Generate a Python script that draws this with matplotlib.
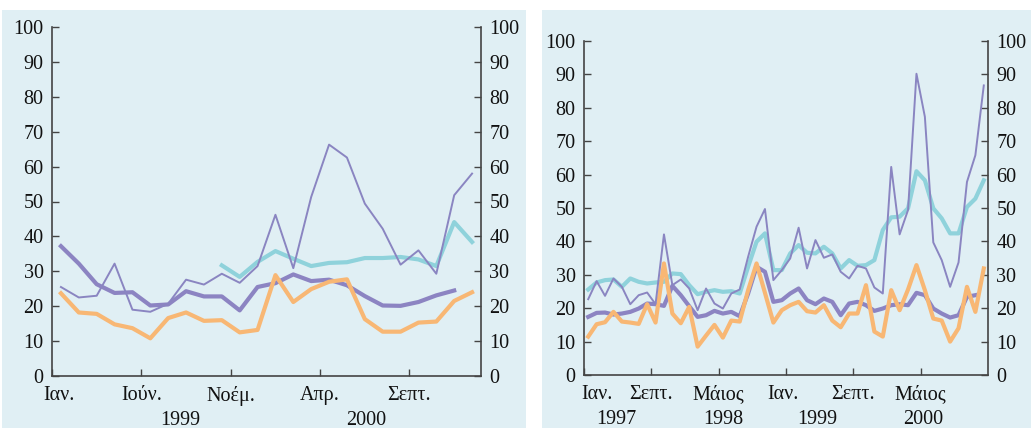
import numpy as np
import matplotlib
matplotlib.use('Agg')
import matplotlib.pyplot as plt
from matplotlib.patches import Rectangle

plt.rcParams['font.family'] = ['Liberation Serif', 'DejaVu Serif']

#--------------------------------------------------------------------------------------------
# left panel: monthly, Jan 1999 - Dec 2000
nan = np.nan
l_thin = [25.5, 22.5, 23.0, 32.2, 19.0, 18.4, 20.7, 27.6, 26.2, 29.3, 26.7, 31.5,
          46.2, 30.9, 51.3, 66.3, 62.6, 49.4, 42.2, 31.9, 36.0, 29.3, 51.8, 58.0]
l_thick = [37.2, 32.2, 26.3, 23.8, 24.0, 20.2, 20.5, 24.3, 22.8, 22.8, 18.8, 25.5,
           26.6, 29.1, 27.2, 27.6, 26.0, 22.9, 20.2, 20.1, 21.2, 23.1, 24.5, nan]
l_cyan = [nan, nan, nan, nan, nan, nan, nan, nan, nan, 31.7, 28.4, 32.7,
          35.8, 33.6, 31.5, 32.4, 32.6, 33.8, 33.8, 34.1, 33.4, 31.5, 44.1, 38.4]
l_orange = [23.7, 18.2, 17.8, 14.8, 13.7, 10.8, 16.6, 18.2, 15.8, 16.0, 12.5, 13.2,
            28.9, 21.2, 24.9, 27.0, 27.7, 16.3, 12.7, 12.7, 15.3, 15.6, 21.5, 24.0]
l_ticks = [0, 5, 10, 15, 20]
l_labels = ['Ιαν.', 'Ιούν.', 'Νοέμ.', 'Απρ.', 'Σεπτ.']
l_label_pos = [0.4, 5, 10, 15, 20]
l_years = ['1999', '2000']
l_year_pos = [7.2, 17.6]

# right panel: monthly, Jan 1997 - Dec 2000
r_thin = [22.7, 28.1, 23.7, 28.9, 26.4, 21.2, 23.9, 24.7, 21.2, 42.1, 26.9, 28.6,
          25.9, 19.4, 25.9, 21.4, 19.9, 24.4, 25.6, 35.4, 44.4, 49.7, 28.4, 31.4,
          34.9, 44.1, 31.9, 40.4, 35.1, 36.1, 30.9, 28.9, 32.7, 31.9, 26.2, 24.4,
          62.3, 42.1, 49.4, 90.2, 77.3, 39.7, 34.4, 26.4, 33.7, 57.8, 65.8, 86.7]
r_cyan = [25.6, 27.7, 28.4, 28.6, 26.4, 28.9, 27.9, 27.4, 27.7, 27.9, 30.4, 30.2,
          26.9, 24.2, 24.9, 25.4, 24.9, 25.1, 24.4, 32.4, 39.9, 42.4, 31.4, 31.4,
          36.4, 38.9, 36.6, 36.4, 38.4, 36.4, 31.9, 34.4, 32.7, 32.9, 34.4, 43.4,
          47.2, 47.4, 49.9, 61.0, 58.3, 49.9, 46.9, 42.4, 42.4, 50.3, 52.8, 58.3]
r_thick = [17.4, 18.6, 18.7, 18.1, 18.4, 18.9, 19.9, 21.4, 21.2, 20.7, 26.7, 23.9,
           20.6, 17.4, 17.9, 19.2, 18.4, 18.9, 17.6, 24.4, 32.4, 30.9, 21.9, 22.4,
           24.4, 25.9, 22.4, 21.2, 22.9, 21.9, 17.9, 21.4, 21.9, 20.9, 19.2, 19.9,
           20.9, 21.2, 20.9, 24.6, 23.9, 19.9, 18.4, 17.2, 17.9, 23.4, 23.9, nan]
r_orange = [11.5, 15.2, 15.8, 18.9, 16.0, 15.7, 15.3, 21.2, 15.7, 33.4, 18.4, 15.5,
            20.4, 8.5, 11.8, 15.0, 11.2, 16.3, 16.0, 25.4, 33.4, 24.6, 15.7, 19.4,
            20.9, 21.9, 19.1, 18.7, 20.9, 16.3, 14.3, 18.4, 18.4, 26.9, 13.0, 11.5,
            25.4, 19.4, 25.6, 32.9, 25.4, 16.9, 16.3, 10.0, 14.0, 26.4, 18.9, 31.9]
r_ticks = [0, 8, 16, 24, 32, 40]
r_labels = ['Ιαν.', 'Σεπτ.', 'Μάιος', 'Ιαν.', 'Σεπτ.', 'Μάιος']
r_label_pos = [1.6, 8, 16, 23.6, 32, 40]
r_years = ['1997', '1998', '1999', '2000']
r_year_pos = [3.8, 16.5, 27.7, 40.3]

#--------------------------------------------------------------------------------------------

bg = '#e0eff4'
c_thin = '#8a85c1'
c_thick = '#8c84c2'
c_cyan = '#8fd2db'
c_orange = '#f8b774'
fs = 14.5

W, H = 1031., 428.
fig = plt.figure(figsize=(W/100, H/100), dpi=100)
fig.patches.append(Rectangle((2/W, 0), 524/W, 418/H, transform=fig.transFigure,
                             facecolor=bg, edgecolor='none', zorder=-10))
fig.patches.append(Rectangle((542/W, 0), 489/W, 418/H, transform=fig.transFigure,
                             facecolor=bg, edgecolor='none', zorder=-10))

ax1 = fig.add_axes([52/W, 1-376/H, 429/W, 349/H])
ax2 = fig.add_axes([584/W, 1-375/H, 404/W, 334/H])


def draw(ax, thin, thick, cyan, orange, ticks, labels, label_pos, years, year_pos):
    n = len(thin)
    x = np.arange(n) + 0.5
    ax.plot(x, cyan, color=c_cyan, lw=3.0, zorder=1)
    ax.plot(x, thick, color=c_thick, lw=3.0, zorder=2)
    ax.plot(x, orange, color=c_orange, lw=3.0, zorder=3)
    ax.plot(x, thin, color=c_thin, lw=1.4, zorder=4)

    ax.set_facecolor('none')
    ax.set_xlim(0, n)
    ax.set_ylim(0, 100)
    ax.set_yticks(np.arange(0, 101, 10))
    ax.set_xticks(ticks)
    ax.set_xticklabels([])
    ax.spines['top'].set_visible(False)
    for s in ['left', 'right', 'bottom']:
        ax.spines[s].set_color('#444444')
        ax.spines[s].set_linewidth(1.2)
    ax.tick_params(direction='in', length=5, width=1, color='#444444',
                   labelcolor='#111111', labelsize=fs)
    ax.tick_params(axis='y', right=True, labelright=True, pad=6)

    for lab, p in zip(labels, label_pos):
        ax.annotate(lab, (p, 0), xycoords=('data', 'axes fraction'), xytext=(0, -7),
                    textcoords='offset points', ha='center', va='top',
                    fontsize=fs, color='#111111')
    for lab, p in zip(years, year_pos):
        ax.annotate(lab, (p, 0), xycoords=('data', 'axes fraction'), xytext=(0, -25),
                    textcoords='offset points', ha='center', va='top',
                    fontsize=fs, color='#111111', annotation_clip=False)


draw(ax1, l_thin, l_thick, l_cyan, l_orange, l_ticks, l_labels, l_label_pos, l_years, l_year_pos)
draw(ax2, r_thin, r_thick, r_cyan, r_orange, r_ticks, r_labels, r_label_pos, r_years, r_year_pos)

fig.savefig('out.png', dpi=100)
